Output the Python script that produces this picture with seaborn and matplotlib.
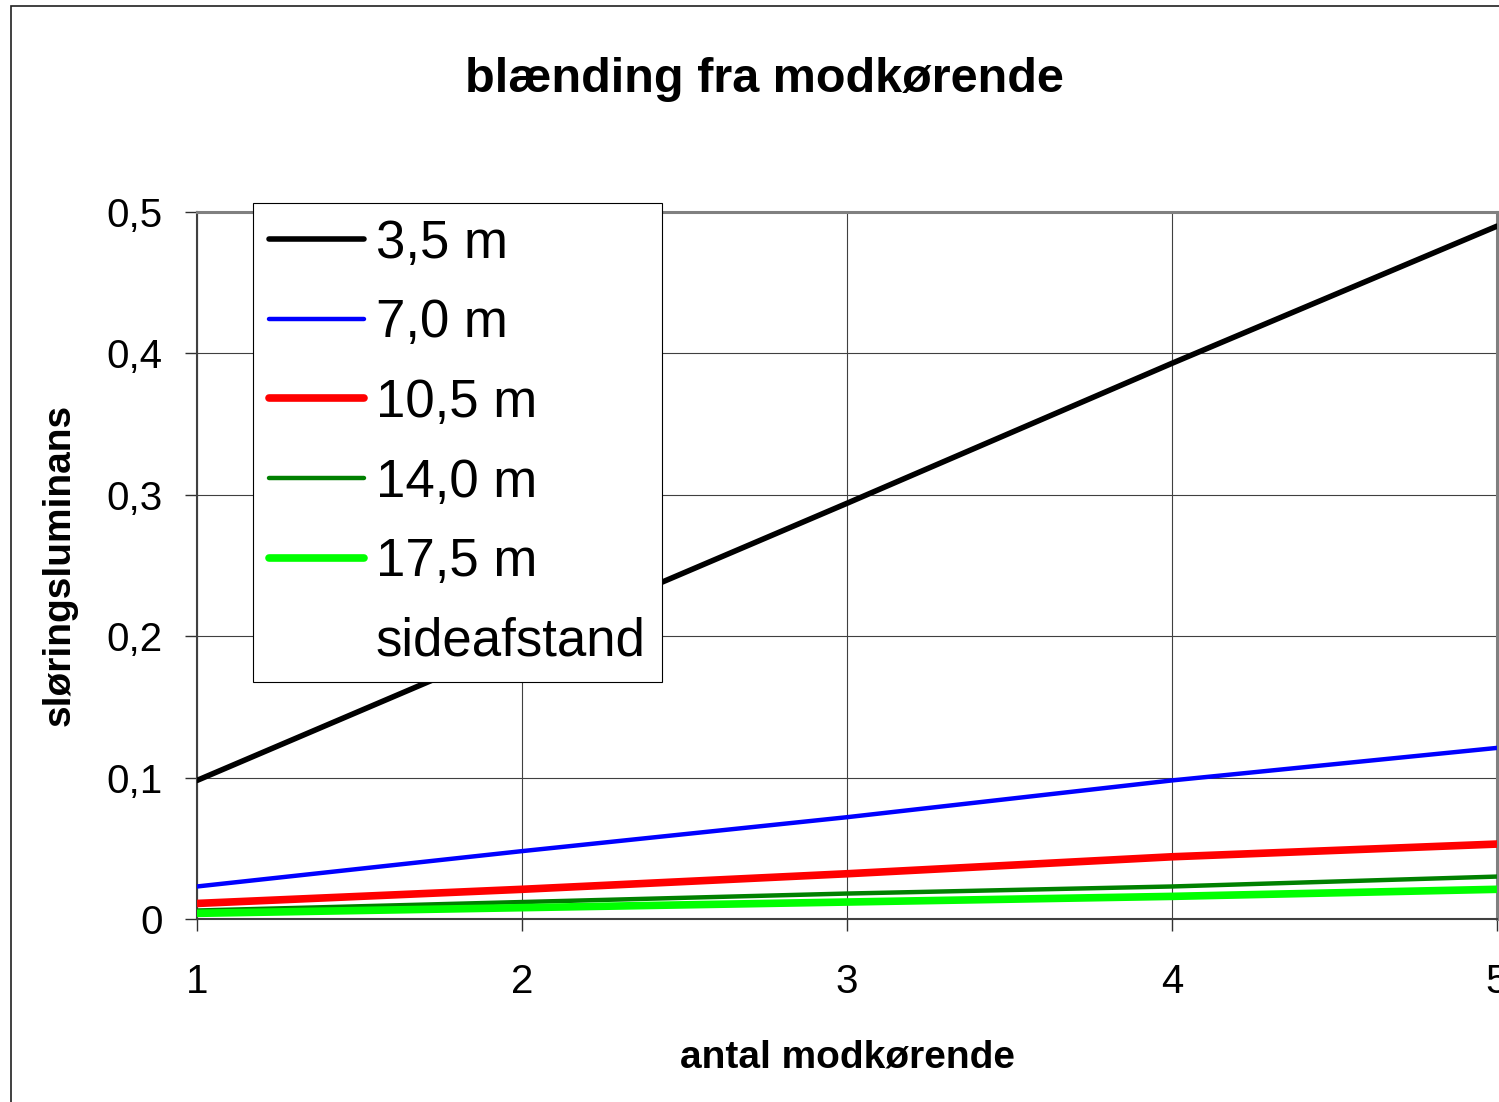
import matplotlib
matplotlib.use("Agg")
import matplotlib.pyplot as plt
from matplotlib.lines import Line2D
from matplotlib.patches import Rectangle
import numpy as np
import pandas as pd
import seaborn as sns

# antal modkørende (x) and sløringsluminans per sideafstand
antal = [1, 2, 3, 4, 5]
serie_navne = ["3,5 m", "7,0 m", "10,5 m", "14,0 m", "17,5 m"]
s_3_5 = [0.098, 0.196, 0.294, 0.393, 0.490]
s_7_0 = [0.023, 0.048, 0.072, 0.098, 0.121]
s_10_5 = [0.011, 0.021, 0.032, 0.044, 0.053]
s_14_0 = [0.006, 0.012, 0.018, 0.023, 0.030]
s_17_5 = [0.004, 0.008, 0.012, 0.016, 0.021]
y_ticks = [0, 0.1, 0.2, 0.3, 0.4, 0.5]
y_tick_labels = ["0", "0,1", "0,2", "0,3", "0,4", "0,5"]

farver = ["#000000", "#0000FF", "#FF0000", "#008000", "#00FF00"]
bredder = [4.0, 3.2, 5.5, 3.2, 5.5]

sns.set_theme(style="white")
plt.rcParams["font.family"] = ["Liberation Sans", "DejaVu Sans"]
plt.rcParams["text.color"] = "black"
plt.rcParams["axes.labelcolor"] = "black"
plt.rcParams["xtick.color"] = "black"
plt.rcParams["ytick.color"] = "black"

W, H = 1499, 1102
fig = plt.figure(figsize=(W / 100, H / 100), dpi=100)
ax = fig.add_axes([197 / W, 1 - 919 / H, (1497 - 197) / W, (919 - 212) / H])

df = pd.DataFrame({
    "antal": antal * 5,
    "vaerdi": s_3_5 + s_7_0 + s_10_5 + s_14_0 + s_17_5,
    "serie": np.repeat(serie_navne, len(antal)),
})
for navn, farve, lw in zip(serie_navne, farver, bredder):
    sns.lineplot(data=df[df.serie == navn], x="antal", y="vaerdi", color=farve,
                 lw=lw, ax=ax, legend=False, zorder=3)

ax.set_xlim(1, 5)
ax.set_ylim(0, 0.5)
ax.set_xticks(antal)
ax.set_xticklabels([str(a) for a in antal])
ax.set_yticks(y_ticks)
ax.set_yticklabels(y_tick_labels)
ax.set_xlabel("")
ax.set_ylabel("")
ax.grid(True, color="#404040", lw=0.8)
ax.tick_params(axis="both", which="major", labelsize=29, colors="#303030",
               labelcolor="black", length=8.6, width=1.0, direction="out",
               bottom=True, left=True)
ax.tick_params(axis="y", pad=16)
ax.tick_params(axis="x", pad=23)
for side in ["top", "right"]:
    ax.spines[side].set_color("#808080")
    ax.spines[side].set_linewidth(2.2)
for side in ["left", "bottom"]:
    ax.spines[side].set_color("#404040")
    ax.spines[side].set_linewidth(1.5)

handles = [Line2D([], [], color=f, lw=lw, solid_capstyle="round")
           for f, lw in zip(farver, bredder)]
handles.append(Line2D([], [], color="none", lw=0))
leg = fig.legend(handles, serie_navne + ["sideafstand"], loc="upper left",
                 bbox_to_anchor=(253 / W, 1 - 203 / H), bbox_transform=fig.transFigure,
                 borderaxespad=0, fontsize=38, frameon=True, fancybox=False,
                 framealpha=1, edgecolor="black", handlelength=1.8,
                 handletextpad=0.23, labelspacing=0.56, borderpad=0.3)
leg.get_frame().set_linewidth(0.8)
leg.set_zorder(5)

fig.text(764.5 / W, 1 - 92 / H, "blænding fra modkørende", ha="center",
         va="baseline", fontsize=35, fontweight="bold")
fig.text(847 / W, 1 - 1067 / H, "antal modkørende", ha="center",
         va="baseline", fontsize=28, fontweight="bold")
fig.text(60 / W, 1 - 565 / H, "sløringsluminans", ha="center", va="center",
         rotation=90, fontsize=28, fontweight="bold")

fig.add_artist(Rectangle((10.5 / W, -0.1), 2, 1.1 - 6 / H, transform=fig.transFigure,
                         fill=False, edgecolor="#202020", lw=1.2))

fig.savefig("out.png", dpi=100)
